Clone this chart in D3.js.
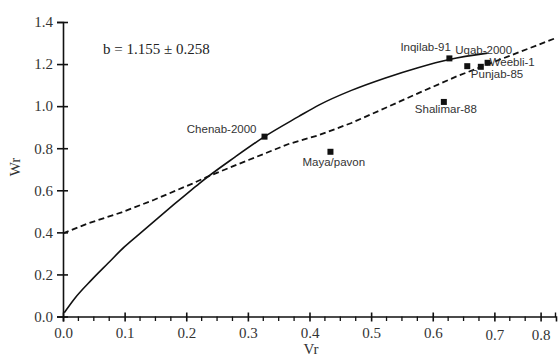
<!DOCTYPE html>
<html>
<head>
<meta charset="utf-8">
<script src="https://cdn.jsdelivr.net/npm/d3@7"></script>
<style>
  html, body { margin: 0; padding: 0; background: #fff; }
  svg { display: block; }
</style>
</head>
<body>
<svg id="chart" width="558" height="356"></svg>
<script>
// ---- data ----
const solidVr = [0.002, 0.019, 0.046, 0.073, 0.100, 0.127, 0.154, 0.181, 0.210, 0.221, 0.280, 0.327, 0.382, 0.415, 0.468, 0.522, 0.576, 0.627, 0.689];
const solidWr = [0.018, 0.086, 0.173, 0.253, 0.332, 0.400, 0.468, 0.535, 0.605, 0.632, 0.760, 0.855, 0.950, 1.005, 1.075, 1.133, 1.183, 1.222, 1.252];
const dashVr = [0.000, 0.041, 0.095, 0.148, 0.210, 0.237, 0.302, 0.366, 0.415, 0.468, 0.522, 0.576, 0.640, 0.798];
const dashWr = [0.395, 0.443, 0.495, 0.555, 0.632, 0.668, 0.745, 0.820, 0.862, 0.920, 0.990, 1.061, 1.143, 1.322];
const genotypes = ["Chenab-2000", "Maya/pavon", "Shalimar-88", "Inqilab-91", "Uqab-2000", "Punjab-85", "Weebli-1"];
const gVr = [0.327, 0.434, 0.618, 0.627, 0.656, 0.678, 0.689];
const gWr = [0.855, 0.783, 1.020, 1.227, 1.190, 1.187, 1.206];
const xTickValues = [0, 0.1, 0.2, 0.3, 0.4, 0.5, 0.6, 0.7, 0.775];
const xTickLabels = ["0.0", "0.1", "0.2", "0.3", "0.4", "0.5", "0.6", "0.7", "0.8"];
const yTickValues = [0, 0.2, 0.4, 0.6, 0.8, 1.0, 1.2, 1.4];
const annotation = "b = 1.155 \u00b1 0.258";

// ---- layout (not data) ----
const labelOffsets = {
  "Chenab-2000": { dx: -8, dy: -4, anchor: "end" },
  "Maya/pavon": { dx: -28, dy: 14, anchor: "start" },
  "Shalimar-88": { dx: -29, dy: 11, anchor: "start" },
  "Inqilab-91": { dx: -49, dy: -7, anchor: "start" },
  "Uqab-2000": { dx: -12, dy: -12, anchor: "start" },
  "Punjab-85": { dx: -10, dy: 11, anchor: "start" },
  "Weebli-1": { dx: 2, dy: 3, anchor: "start" }
};

const svg = d3.select("#chart");
const x = d3.scaleLinear().domain([0, 0.8]).range([63, 556]);
const y = d3.scaleLinear().domain([0, 1.4]).range([316.5, 22]);
const serif = "'Liberation Serif', 'Times New Roman', serif";
const sans = "'Liberation Sans', Arial, sans-serif";

// x axis
const xAxis = svg.append("g").attr("transform", `translate(0,${y(0)})`)
  .call(d3.axisBottom(x).tickValues(xTickValues)
    .tickFormat((d, i) => xTickLabels[i]).tickSizeOuter(0).tickSize(5));
xAxis.select(".domain").attr("stroke", "#111").attr("stroke-width", 1.6);
xAxis.selectAll(".tick line").attr("y1", -4).attr("y2", 5).attr("stroke", "#111").attr("stroke-width", 1.6);
xAxis.selectAll(".tick text")
  .attr("y", (d, i) => i >= 7 ? 23.5 : 21.5).attr("dy", 0)
  .attr("font-family", serif).attr("font-size", 15).attr("fill", "#333");
// minor ticks
const minor = d3.range(0.025, 0.8, 0.025).filter(v => !xTickValues.some(t => Math.abs(t - v) < 1e-6));
xAxis.selectAll(".minor").data(minor).join("line")
  .attr("x1", d => x(d)).attr("x2", d => x(d)).attr("y1", 0).attr("y2", 4.5)
  .attr("stroke", "#111").attr("stroke-width", 1.3);
xAxis.append("line").attr("x1", x(0.8) - 0.5).attr("x2", x(0.8) - 0.5).attr("y1", -4).attr("y2", 0.5)
  .attr("stroke", "#111").attr("stroke-width", 1.4);

// y axis
const yAxis = svg.append("g").attr("transform", `translate(${x(0)},0)`)
  .call(d3.axisLeft(y).tickValues(yTickValues).tickFormat(d3.format(".1f")).tickSizeOuter(0).tickSize(6));
yAxis.select(".domain").attr("stroke", "#111").attr("stroke-width", 1.6);
yAxis.selectAll(".tick line").attr("x1", -6).attr("x2", 5).attr("stroke", "#111").attr("stroke-width", 1.6);
yAxis.selectAll(".tick text").attr("x", -10)
  .attr("font-family", serif).attr("font-size", 15).attr("fill", "#333");
svg.selectAll(".domain").attr("fill", "none");

// lines
const solidData = solidVr.map((v, i) => [v, solidWr[i]]);
const dashData = dashVr.map((v, i) => [v, dashWr[i]]);
const smooth = d3.line().x(d => x(d[0])).y(d => y(d[1])).curve(d3.curveMonotoneX);
const straight = d3.line().x(d => x(d[0])).y(d => y(d[1]));
svg.append("path").datum(solidData).attr("d", smooth)
  .attr("fill", "none").attr("stroke", "#111").attr("stroke-width", 1.6);
svg.append("path").datum(dashData).attr("d", straight)
  .attr("fill", "none").attr("stroke", "#111").attr("stroke-width", 1.8)
  .attr("stroke-dasharray", "6,3.5");

// points
const pts = genotypes.map((g, i) => ({ g, v: gVr[i], w: gWr[i] }));
svg.selectAll(".pt").data(pts).join("rect")
  .attr("x", d => x(d.v) - 3).attr("y", d => y(d.w) - 3)
  .attr("width", 6).attr("height", 6).attr("fill", "#111");
svg.selectAll(".lbl").data(pts).join("text")
  .attr("x", d => x(d.v) + labelOffsets[d.g].dx)
  .attr("y", d => y(d.w) + labelOffsets[d.g].dy)
  .attr("text-anchor", d => labelOffsets[d.g].anchor)
  .attr("font-family", sans).attr("font-size", 11.5).attr("fill", "#333")
  .text(d => d.g);

// annotation and titles
svg.append("text").attr("x", 103).attr("y", 54)
  .attr("font-family", serif).attr("font-size", 15).attr("fill", "#222").text(annotation);
svg.append("text").attr("transform", "translate(20,167) rotate(-90)")
  .attr("text-anchor", "middle").attr("font-family", serif).attr("font-size", 15).attr("fill", "#333").text("Wr");
svg.append("text").attr("x", 311).attr("y", 354)
  .attr("text-anchor", "middle").attr("font-family", serif).attr("font-size", 15).attr("fill", "#333").text("Vr");
</script>
</body>
</html>
